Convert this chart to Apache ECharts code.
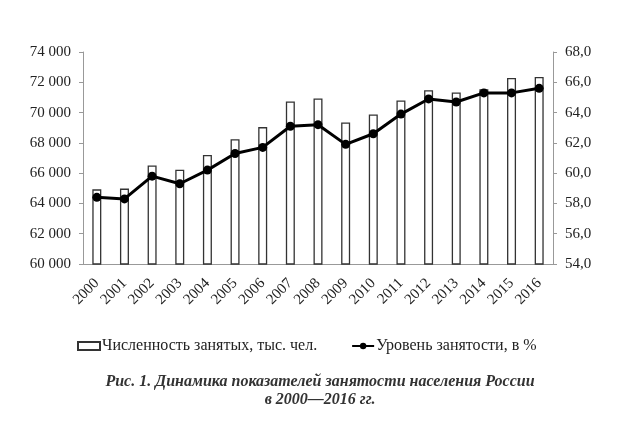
<!DOCTYPE html>
<html lang="ru">
<head>
    <meta charset="UTF-8">
    <title>Динамика занятости</title>
    <script type="text/javascript" src="https://cdn.jsdelivr.net/npm/echarts@6/dist/echarts.min.js"></script>
    <style type="text/css">
        html, body {margin:0;padding:0;background:#fff;}
        #main {width:640px;height:435px;}
    </style>
</head>
<body>
<div id="main"></div>
<script type="text/javascript">
    // годы
    var years = ['2000','2001','2002','2003','2004','2005','2006','2007','2008',
                 '2009','2010','2011','2012','2013','2014','2015','2016'];
    // численность занятых, тыс. чел.
    var employed = [64930, 64980, 66510, 66220, 67200, 68240, 69040, 70730, 70930,
                    69350, 69880, 70800, 71470, 71330, 71540, 72280, 72350];
    // уровень занятости, %
    var rate = [58.4, 58.3, 59.8, 59.3, 60.2, 61.3, 61.7, 63.1, 63.2,
                61.9, 62.6, 63.9, 64.9, 64.7, 65.3, 65.3, 65.6];

    var serif = '"Liberation Serif", "DejaVu Serif", serif';

    var myChart = echarts.init(document.getElementById('main'));
    var option = {
        animation: false,
        textStyle: {fontFamily: serif, color: '#222'},
        title: {
            text: 'Рис. 1. Динамика показателей занятости населения России\nв 2000—2016 гг.',
            left: 'center',
            top: 368,
            textStyle: {
                fontFamily: serif,
                fontStyle: 'italic',
                fontWeight: 'bold',
                fontSize: 16,
                lineHeight: 18,
                color: '#333'
            }
        },
        legend: {
            top: 333,
            left: 72,
            itemGap: 34,
            itemWidth: 22,
            itemHeight: 8,
            textStyle: {fontFamily: serif, fontSize: 16, color: '#222', padding: [0, 0, 0, -3]},
            data: [
                {name: 'Численность занятых, тыс. чел.', icon: 'rect'},
                {name: 'Уровень занятости, в %'}
            ]
        },
        grid: {left: 83, right: 87, top: 52, bottom: 171},
        xAxis: {
            type: 'category',
            data: years,
            axisLine: {lineStyle: {color: '#999', width: 1}},
            axisTick: {show: false},
            axisLabel: {
                rotate: 45,
                fontFamily: serif,
                fontSize: 15,
                color: '#222',
                margin: 17
            }
        },
        yAxis: [{
            type: 'value',
            min: 60000,
            max: 74000,
            interval: 2000,
            splitLine: {show: false},
            axisLine: {show: true, lineStyle: {color: '#999'}},
            axisTick: {show: true, length: 4, lineStyle: {color: '#999'}},
            axisLabel: {
                fontFamily: serif,
                fontSize: 15,
                color: '#222',
                margin: 12,
                formatter: function (v) {
                    return String(v).replace(/(\d)(?=(\d{3})$)/, '$1 ');
                }
            }
        }, {
            type: 'value',
            min: 54,
            max: 68,
            interval: 2,
            splitLine: {show: false},
            axisLine: {show: true, lineStyle: {color: '#999'}},
            axisTick: {show: true, length: 4, lineStyle: {color: '#999'}},
            axisLabel: {
                fontFamily: serif,
                fontSize: 15,
                color: '#222',
                margin: 12,
                formatter: function (v) {
                    return v.toFixed(1).replace('.', ',');
                }
            }
        }],
        series: [{
            name: 'Численность занятых, тыс. чел.',
            type: 'bar',
            yAxisIndex: 0,
            data: employed,
            barWidth: 9,
            itemStyle: {color: '#fff', borderColor: '#333', borderWidth: 1.3}
        }, {
            name: 'Уровень занятости, в %',
            type: 'line',
            yAxisIndex: 1,
            data: rate,
            symbol: 'circle',
            symbolSize: 9,
            lineStyle: {color: '#000', width: 3},
            itemStyle: {color: '#000'}
        }]
    };
    myChart.setOption(option);
</script>
</body>
</html>
